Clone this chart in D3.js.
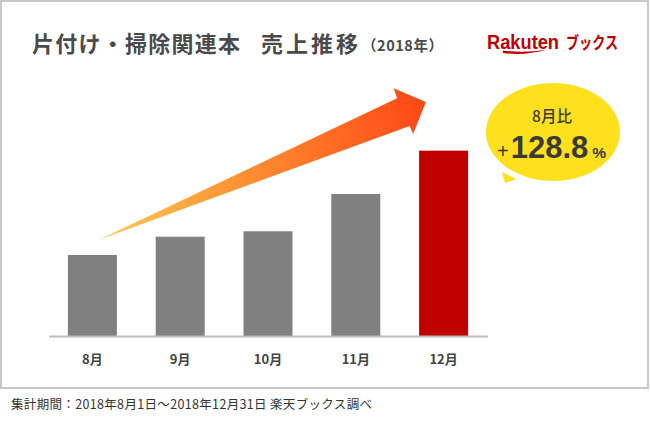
<!DOCTYPE html>
<html>
<head>
<meta charset="utf-8">
<script src="https://cdn.jsdelivr.net/npm/d3@7"></script>
<style>
  html, body { margin: 0; padding: 0; background: #fff; }
  svg { display: block; }
</style>
</head>
<body>
<div id="chart"></div>
<script>
// ---- data (sales index, August = 100) ----
const months = ["8月", "9月", "10月", "11月", "12月"];
const sales = [100, 122.6, 129.3, 175.3, 228.8];
const yDomain = [0, 250];

const titleMain1 = "片付け・掃除関連本";
const titleMain2 = "売上推移";
const titleYear = "（2018年）";
const bubbleLine1 = "8月比";
const bubblePlus = "+";
const bubbleValue = "128.8";
const bubblePct = "%";
const footnote = "集計期間：2018年8月1日〜2018年12月31日 楽天ブックス調べ";

// ---- layout ----
const W = 650, H = 422;
const CJK = "'Noto Sans CJK JP', 'Noto Sans', sans-serif";
const LAT = "'Liberation Sans', Arial, sans-serif";
const svg = d3.select("#chart").append("svg").attr("width", W).attr("height", H)
  .attr("font-family", CJK);

// frame
svg.append("rect").attr("x", 1).attr("y", 1).attr("width", 647).attr("height", 387)
  .attr("fill", "#fff").attr("stroke", "#c8c8c8").attr("stroke-width", 2);

// title
const tcol = "#4a4a4a";
svg.append("text").attr("x", 32).attr("y", 52).attr("fill", tcol)
  .attr("font-size", 22).attr("font-weight", 700)
  .attr("textLength", 208).attr("lengthAdjust", "spacing")
  .text(titleMain1);
svg.append("text").attr("x", 261).attr("y", 52).attr("fill", tcol)
  .attr("font-size", 22).attr("font-weight", 700)
  .attr("textLength", 97).attr("lengthAdjust", "spacing")
  .text(titleMain2);
svg.append("text").attr("x", 362).attr("y", 50.5).attr("fill", tcol)
  .attr("font-size", 14.5).attr("font-weight", 700)
  .attr("textLength", 81).attr("lengthAdjust", "spacing")
  .text(titleYear);

// logo
const red = "#bf0000";
svg.append("text").attr("x", 487).attr("y", 48.5).attr("fill", red)
  .attr("font-family", LAT)
  .attr("font-size", 20).attr("font-weight", 700)
  .attr("textLength", 72).attr("lengthAdjust", "spacingAndGlyphs")
  .text("Rakuten");
svg.append("path")
  .attr("d", "M503,50.5 Q525,53.5 547,49.5 Q525,56 503,53 Z")
  .attr("fill", red);
svg.append("text").attr("x", 566).attr("y", 49).attr("fill", red)
  .attr("font-size", 17).attr("font-weight", 700)
  .attr("textLength", 52).attr("lengthAdjust", "spacingAndGlyphs")
  .text("ブックス");

// scales
const x = d3.scaleBand().domain(months).range([48.5, 487.5])
  .paddingInner(0.442).paddingOuter(0.221);
const y = d3.scaleLinear().domain(yDomain).range([336, 133.5]);

// arrow gradient (decoration anchored to first and last bar)
const bw = x.bandwidth();
const x0 = x(months[0]) + bw / 2, y0 = y(sales[0]);
const x4 = x(months[months.length - 1]) + bw / 2, y4 = y(sales[sales.length - 1]);

const defs = svg.append("defs");
const grad = defs.append("linearGradient").attr("id", "arrowGrad")
  .attr("gradientUnits", "userSpaceOnUse")
  .attr("x1", x0 + 6).attr("y1", y0 - 15)
  .attr("x2", x4 - 18).attr("y2", y4 - 49);
grad.append("stop").attr("offset", 0).attr("stop-color", "#ffcc55");
grad.append("stop").attr("offset", 0.45).attr("stop-color", "#fd8f32");
grad.append("stop").attr("offset", 1).attr("stop-color", "#ff4714");

// bars
svg.append("g").selectAll("rect").data(months).join("rect")
  .attr("x", d => x(d))
  .attr("y", (d, i) => y(sales[i]))
  .attr("width", bw)
  .attr("height", (d, i) => y(0) - y(sales[i]))
  .attr("fill", (d, i) => i === months.length - 1 ? "#c00000" : "#808080");

// axis
const axis = svg.append("g").attr("transform", `translate(0,${y(0)})`)
  .call(d3.axisBottom(x).tickSize(0).tickSizeOuter(0));
axis.attr("font-family", null).attr("font-size", null);
axis.select(".domain").attr("stroke", "#bcbcbc").attr("stroke-width", 2);
axis.selectAll("text")
  .attr("y", 28).attr("dy", 0)
  .attr("font-family", CJK)
  .attr("font-size", 13).attr("font-weight", 700).attr("fill", "#444");

// arrow
const arrowPts = [
  [x0 + 6, y0 - 15],
  [x4 - 46.5, y4 - 52.4],
  [x4 - 50, y4 - 62.4],
  [x4 - 17.7, y4 - 48.7],
  [x4 - 30.5, y4 - 16.7],
  [x4 - 34, y4 - 24.7]
];
svg.append("path")
  .attr("d", "M" + arrowPts.map(p => p.join(",")).join("L") + "Z")
  .attr("fill", "url(#arrowGrad)");

// bubble
const bub = svg.append("g");
bub.append("path").attr("d", "M502,172 L505,183 L516,179 Z").attr("fill", "#ffe01c");
bub.append("ellipse").attr("cx", 553).attr("cy", 132).attr("rx", 67).attr("ry", 49)
  .attr("fill", "#ffe01c");
bub.append("text").attr("x", 552).attr("y", 122).attr("text-anchor", "middle")
  .attr("fill", "#3a3a3a").attr("font-size", 15.5).attr("font-weight", 500)
  .text(bubbleLine1);
const vt = bub.append("text").attr("x", 497).attr("y", 157.5).attr("fill", "#3a3a3a")
  .attr("font-family", LAT);
vt.append("tspan").attr("font-size", 20).attr("font-weight", 400).text(bubblePlus);
vt.append("tspan").attr("dx", 2).attr("font-size", 31).attr("font-weight", 700)
  .text(bubbleValue);
vt.append("tspan").attr("dx", 4).attr("font-size", 15.5).attr("font-weight", 700).text(bubblePct);

// footnote
svg.append("text").attr("x", 11).attr("y", 409).attr("fill", "#333")
  .attr("font-size", 12.5)
  .attr("textLength", 361).attr("lengthAdjust", "spacing")
  .text(footnote);
</script>
</body>
</html>
